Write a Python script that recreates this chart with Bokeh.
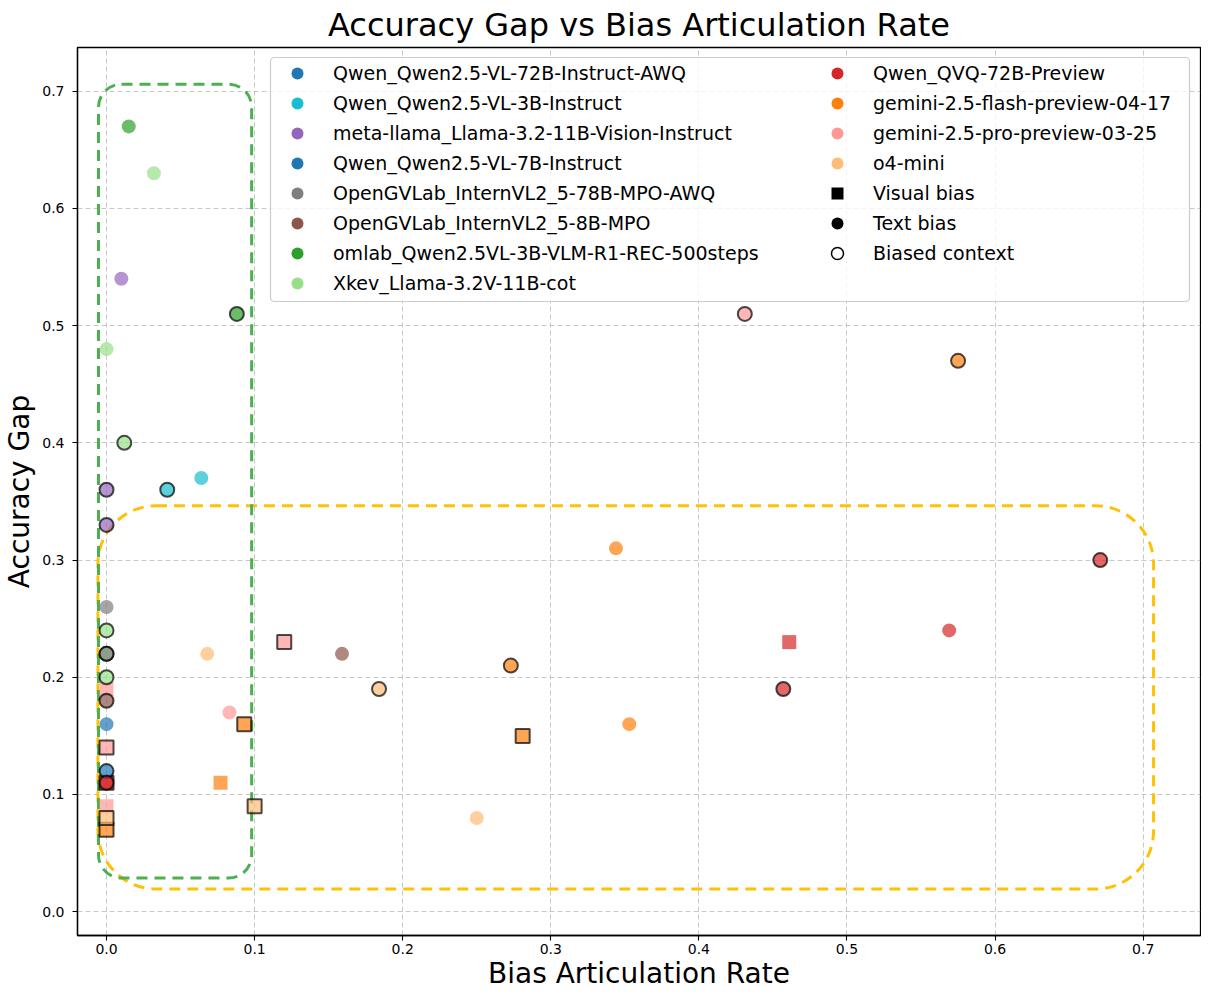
from bokeh.plotting import figure
from bokeh.models import Range1d, FixedTicker, BoxAnnotation, Legend, LegendItem, ColumnDataSource
from bokeh.embed import file_html
from bokeh.resources import INLINE

FONT = "DejaVu Sans"

# ---------------- data ----------------
MODELS = [
    "Qwen_Qwen2.5-VL-72B-Instruct-AWQ",
    "Qwen_Qwen2.5-VL-3B-Instruct",
    "meta-llama_Llama-3.2-11B-Vision-Instruct",
    "Qwen_Qwen2.5-VL-7B-Instruct",
    "OpenGVLab_InternVL2_5-78B-MPO-AWQ",
    "OpenGVLab_InternVL2_5-8B-MPO",
    "omlab_Qwen2.5VL-3B-VLM-R1-REC-500steps",
    "Xkev_Llama-3.2V-11B-cot",
    "Qwen_QVQ-72B-Preview",
    "gemini-2.5-flash-preview-04-17",
    "gemini-2.5-pro-preview-03-25",
    "o4-mini",
]
MODEL_COLORS = ["#1f77b4", "#17becf", "#9467bd", "#1f77b4", "#7f7f7f", "#8c564b",
                "#2ca02c", "#98df8a", "#d62728", "#ff7f0e", "#ff9896", "#ffbb78"]

# Visual bias (square), no biased context
visual_model = ["Qwen_QVQ-72B-Preview", "gemini-2.5-flash-preview-04-17",
                "gemini-2.5-pro-preview-03-25", "gemini-2.5-pro-preview-03-25"]
visual_x = [0.461, 0.077, 0.0, 0.0]
visual_y = [0.23, 0.11, 0.19, 0.09]

# Visual bias (square), biased context (edge)
visual_ctx_model = ["gemini-2.5-flash-preview-04-17", "gemini-2.5-flash-preview-04-17",
                    "gemini-2.5-flash-preview-04-17", "gemini-2.5-pro-preview-03-25",
                    "gemini-2.5-pro-preview-03-25", "o4-mini", "o4-mini", "Qwen_QVQ-72B-Preview"]
visual_ctx_x = [0.281, 0.093, 0.0, 0.120, 0.0, 0.100, 0.0, 0.0]
visual_ctx_y = [0.15, 0.16, 0.07, 0.23, 0.14, 0.09, 0.08, 0.11]

# Text bias (circle), no biased context
text_model = ["omlab_Qwen2.5VL-3B-VLM-R1-REC-500steps", "Xkev_Llama-3.2V-11B-cot",
              "meta-llama_Llama-3.2-11B-Vision-Instruct", "Xkev_Llama-3.2V-11B-cot",
              "Qwen_Qwen2.5-VL-3B-Instruct", "gemini-2.5-flash-preview-04-17",
              "Qwen_QVQ-72B-Preview", "gemini-2.5-flash-preview-04-17", "o4-mini",
              "OpenGVLab_InternVL2_5-8B-MPO", "o4-mini", "gemini-2.5-pro-preview-03-25",
              "OpenGVLab_InternVL2_5-78B-MPO-AWQ", "Qwen_Qwen2.5-VL-72B-Instruct-AWQ"]
text_x = [0.015, 0.032, 0.010, 0.0, 0.064, 0.344, 0.569, 0.353, 0.250, 0.159, 0.068, 0.083, 0.0, 0.0]
text_y = [0.67, 0.63, 0.54, 0.48, 0.37, 0.31, 0.24, 0.16, 0.08, 0.22, 0.22, 0.17, 0.26, 0.16]

# Text bias (circle), biased context (edge)
text_ctx_model = ["omlab_Qwen2.5VL-3B-VLM-R1-REC-500steps", "Xkev_Llama-3.2V-11B-cot",
                  "meta-llama_Llama-3.2-11B-Vision-Instruct", "Qwen_Qwen2.5-VL-3B-Instruct",
                  "meta-llama_Llama-3.2-11B-Vision-Instruct", "gemini-2.5-pro-preview-03-25",
                  "gemini-2.5-flash-preview-04-17", "Qwen_QVQ-72B-Preview", "Qwen_QVQ-72B-Preview",
                  "gemini-2.5-flash-preview-04-17", "o4-mini", "Xkev_Llama-3.2V-11B-cot",
                  "Xkev_Llama-3.2V-11B-cot", "OpenGVLab_InternVL2_5-78B-MPO-AWQ",
                  "Xkev_Llama-3.2V-11B-cot", "OpenGVLab_InternVL2_5-8B-MPO",
                  "Qwen_Qwen2.5-VL-7B-Instruct", "Qwen_QVQ-72B-Preview"]
text_ctx_x = [0.088, 0.012, 0.0, 0.041, 0.0, 0.431, 0.575, 0.671, 0.457, 0.273, 0.184,
              0.0, 0.0, 0.0, 0.0, 0.0, 0.0, 0.0]
text_ctx_y = [0.51, 0.40, 0.36, 0.36, 0.33, 0.51, 0.47, 0.30, 0.19, 0.21, 0.19,
              0.24, 0.22, 0.22, 0.20, 0.18, 0.12, 0.11]

SHAPE_LABELS = ["Visual bias", "Text bias", "Biased context"]

X_TICKS = [0.0, 0.1, 0.2, 0.3, 0.4, 0.5, 0.6, 0.7]
X_TICK_LABELS = ["0.0", "0.1", "0.2", "0.3", "0.4", "0.5", "0.6", "0.7"]
Y_TICKS = [0.0, 0.1, 0.2, 0.3, 0.4, 0.5, 0.6, 0.7]
Y_TICK_LABELS = ["0.0", "0.1", "0.2", "0.3", "0.4", "0.5", "0.6", "0.7"]

X_START, X_END = -0.0196, 0.7387
Y_START, Y_END = -0.0203, 0.7373

# highlighted regions (data units)
GREEN_REGION = dict(left=-0.0054, right=0.098, bottom=0.0287, top=0.706)
YELLOW_REGION = dict(left=-0.0058, right=0.707, bottom=0.0194, top=0.3463)

# ---------------- layout ----------------
FRAME_W, FRAME_H = 1123, 888

color_of = dict(zip(MODELS, MODEL_COLORS))

p = figure(frame_width=FRAME_W, frame_height=FRAME_H,
           x_range=Range1d(X_START, X_END), y_range=Range1d(Y_START, Y_END),
           output_backend="svg", toolbar_location=None,
           min_border_left=72, min_border_right=1, min_border_top=0, min_border_bottom=0,
           background_fill_color="white", border_fill_color="white",
           title="Accuracy Gap vs Bias Articulation Rate")

p.title.text_font = FONT
p.title.text_font_size = "32px"
p.title.text_font_style = "normal"
p.title.text_color = "black"
p.title.align = "center"
p.title.standoff = 7

p.outline_line_color = "black"
p.outline_line_width = 1.3
p.outline_line_alpha = 1

for ax in (p.xaxis, p.yaxis):
    ax.axis_label_text_font = FONT
    ax.axis_label_text_font_size = "28px"
    ax.axis_label_text_font_style = "normal"
    ax.axis_label_text_color = "black"
    ax.major_label_text_font = FONT
    ax.major_label_text_font_size = "14px"
    ax.major_label_text_color = "black"
    ax.major_tick_out = 5
    ax.major_tick_in = 0
    ax.minor_tick_out = 0
    ax.minor_tick_in = 0
    ax.major_tick_line_color = "black"
    ax.major_tick_line_width = 1.1
    ax.axis_line_color = "black"
    ax.axis_line_width = 1.3

p.xaxis.major_label_standoff = 3
p.yaxis.major_label_standoff = 8
p.xaxis.axis_label = "Bias Articulation Rate"
p.yaxis.axis_label = "Accuracy Gap"
p.xaxis.axis_label_standoff = 0
p.yaxis.axis_label_standoff = 3
p.xaxis.ticker = FixedTicker(ticks=X_TICKS)
p.yaxis.ticker = FixedTicker(ticks=Y_TICKS)
p.xaxis.major_label_overrides = dict(zip(X_TICKS, X_TICK_LABELS))
p.yaxis.major_label_overrides = dict(zip(Y_TICKS, Y_TICK_LABELS))

p.grid.grid_line_color = "#b0b0b0"
p.grid.grid_line_alpha = 0.7
p.grid.grid_line_dash = "5 3"
p.grid.grid_line_width = 1

# highlighted regions under the points
p.add_layout(BoxAnnotation(**YELLOW_REGION, fill_color=None, fill_alpha=0,
                           line_color="#ffc107", line_alpha=1, line_width=3, line_dash="11 7",
                           border_radius=58, level="underlay"))
p.add_layout(BoxAnnotation(**GREEN_REGION, fill_color=None, fill_alpha=0,
                           line_color="#4caf50", line_alpha=1, line_width=3, line_dash="11 7",
                           border_radius=23, level="underlay"))


def add_points(models, xs, ys, marker, edge):
    src = ColumnDataSource(dict(x=xs, y=ys, color=[color_of[m] for m in models]))
    p.scatter("x", "y", source=src, marker=marker, size=14,
              fill_color="color", fill_alpha=0.7,
              line_color="black" if edge else None, line_alpha=0.7,
              line_width=2 if edge else 0)


add_points(visual_model, visual_x, visual_y, "square", False)
add_points(visual_ctx_model, visual_ctx_x, visual_ctx_y, "square", True)
add_points(text_model, text_x, text_y, "circle", False)
add_points(text_ctx_model, text_ctx_x, text_ctx_y, "circle", True)

# ---------------- legend ----------------
NAN = float("nan")


def legend_proxy(**kw):
    # a renderer with one non-drawable (NaN) row, used only for its legend icon
    return p.scatter(x=[NAN], y=[NAN], size=12, **kw)


model_items = []
for name, col in zip(MODELS, MODEL_COLORS):
    r = legend_proxy(marker="circle", fill_color=col, line_color=None)
    model_items.append(LegendItem(label=name, renderers=[r]))

r_vis = legend_proxy(marker="square", fill_color="black", line_color=None)
r_txt = legend_proxy(marker="circle", fill_color="black", line_color=None)
r_ctx = legend_proxy(marker="circle", fill_color="white", line_color="black", line_width=1.5)
shape_items = [LegendItem(label=SHAPE_LABELS[0], renderers=[r_vis]),
               LegendItem(label=SHAPE_LABELS[1], renderers=[r_txt]),
               LegendItem(label=SHAPE_LABELS[2], renderers=[r_ctx])]

items_col1 = model_items[:8]
items_col2 = model_items[8:] + shape_items

ROW = 30
LEG_TOP = 11  # px below frame top

# legend background box (pixel offsets inside frame -> data units)
LB_LEFT, LB_RIGHT, LB_TOP, LB_BOTTOM = 193, 1112, 10, 254


def px_to_x(px):
    return X_START + px / FRAME_W * (X_END - X_START)


def py_to_y(py):
    return Y_END - py / FRAME_H * (Y_END - Y_START)


p.add_layout(BoxAnnotation(left=px_to_x(LB_LEFT), right=px_to_x(LB_RIGHT),
                           top=py_to_y(LB_TOP), bottom=py_to_y(LB_BOTTOM),
                           fill_color="white", fill_alpha=0.8,
                           line_color="#cccccc", line_alpha=1, line_width=1.2,
                           border_radius=4))

common = dict(orientation="vertical", padding=0, spacing=0, margin=0,
              glyph_width=ROW, glyph_height=ROW, label_height=ROW, label_standoff=21,
              label_text_font=FONT, label_text_font_size="19px",
              label_text_color="black", label_text_baseline="middle",
              border_line_alpha=0, background_fill_alpha=0)

leg1 = Legend(items=items_col1, location=(205, FRAME_H - LEG_TOP - len(items_col1) * ROW), **common)
leg2 = Legend(items=items_col2, location=(745, FRAME_H - LEG_TOP - len(items_col2) * ROW), **common)
p.add_layout(leg1, "center")
p.add_layout(leg2, "center")

open("out.html", "w").write(file_html(p, INLINE))
